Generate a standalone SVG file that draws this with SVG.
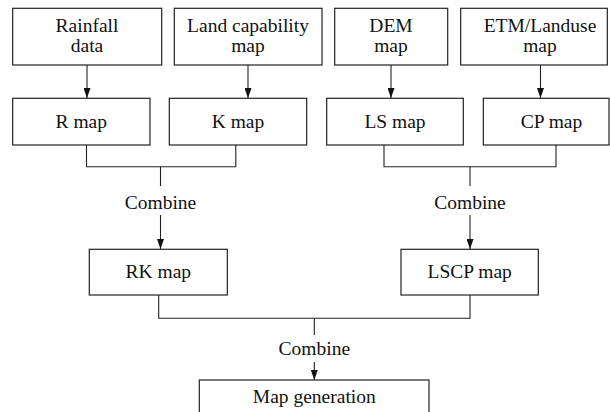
<svg xmlns="http://www.w3.org/2000/svg" width="610" height="412" viewBox="0 0 610 412">
<style>
.box{fill:#fff;stroke:#222;stroke-width:1.2}
.t{font-family:'Liberation Serif','Times New Roman','DejaVu Serif',serif;font-size:19.5px;fill:#111;text-anchor:middle}
.ln{fill:none;stroke:#222;stroke-width:1.1}
</style>
<defs>
<marker id="ah" viewBox="0 0 10 7" refX="10" refY="3.5" markerUnits="userSpaceOnUse" markerWidth="10" markerHeight="7" orient="auto">
<path d="M0,0 L10,3.5 L0,7 z" fill="#111"/>
</marker>
</defs>
<rect width="610" height="412" fill="#fff"/>
<g id="connectors">
<line class="ln" x1="87" y1="65" x2="87" y2="98" marker-end="url(#ah)"/>
<line class="ln" x1="248" y1="65" x2="248" y2="98" marker-end="url(#ah)"/>
<line class="ln" x1="391" y1="65" x2="391" y2="98" marker-end="url(#ah)"/>
<line class="ln" x1="540.5" y1="65" x2="540.5" y2="98" marker-end="url(#ah)"/>
<path class="ln" d="M86.5,145 V166.7 H235.8 V145"/>
<path class="ln" d="M384,145 V166.7 H556 V145"/>
<line class="ln" x1="160.5" y1="166.7" x2="160.5" y2="186"/>
<line class="ln" x1="160.5" y1="215" x2="160.5" y2="249" marker-end="url(#ah)"/>
<line class="ln" x1="470" y1="166.7" x2="470" y2="186"/>
<line class="ln" x1="470" y1="215" x2="470" y2="249" marker-end="url(#ah)"/>
<path class="ln" d="M158.7,295 V318.3 H470 V295"/>
<line class="ln" x1="314.3" y1="318.3" x2="314.3" y2="335"/>
<line class="ln" x1="314.3" y1="362" x2="314.3" y2="380" marker-end="url(#ah)"/>
<text class="t" x="160.5" y="209">Combine</text>
<text class="t" x="470" y="209">Combine</text>
<text class="t" x="314.3" y="355">Combine</text>
</g>
<g id="rainfall"><rect class="box" x="12.7" y="8.3" width="149" height="56.7"/><text class="t" x="87" y="32.3">Rainfall</text><text class="t" x="87" y="51.7">data</text></g>
<g id="landcap"><rect class="box" x="174.3" y="8.3" width="147.7" height="56.7"/><text class="t" x="248" y="32.3">Land capability</text><text class="t" x="248" y="51.7">map</text></g>
<g id="dem"><rect class="box" x="334.7" y="8.3" width="113" height="56.7"/><text class="t" x="391" y="32.3">DEM</text><text class="t" x="391" y="51.7">map</text></g>
<g id="etm"><rect class="box" x="460.7" y="8.3" width="146.6" height="56.7"/><text class="t" x="540" y="32.3">ETM/Landuse</text><text class="t" x="540" y="51.7">map</text></g>
<g id="rmap"><rect class="box" x="12.7" y="98.3" width="137.3" height="46.7"/><text class="t" x="81.3" y="127.7">R map</text></g>
<g id="kmap"><rect class="box" x="169.3" y="98.3" width="137.4" height="46.7"/><text class="t" x="238" y="127.7">K map</text></g>
<g id="lsmap"><rect class="box" x="326.7" y="98.3" width="136.6" height="46.7"/><text class="t" x="395" y="127.7">LS map</text></g>
<g id="cpmap"><rect class="box" x="483.3" y="98.3" width="125.7" height="46.7"/><text class="t" x="551.5" y="127.7">CP map</text></g>
<g id="rkmap"><rect class="box" x="89.3" y="249.3" width="138" height="45.7"/><text class="t" x="158.3" y="278.3">RK map</text></g>
<g id="lscpmap"><rect class="box" x="401" y="249.3" width="137.3" height="45.7"/><text class="t" x="469.7" y="278.3">LSCP map</text></g>
<g id="mapgen"><rect class="box" x="199.3" y="380" width="229.7" height="40"/><text class="t" x="314.3" y="403.3">Map generation</text></g>
</svg>
